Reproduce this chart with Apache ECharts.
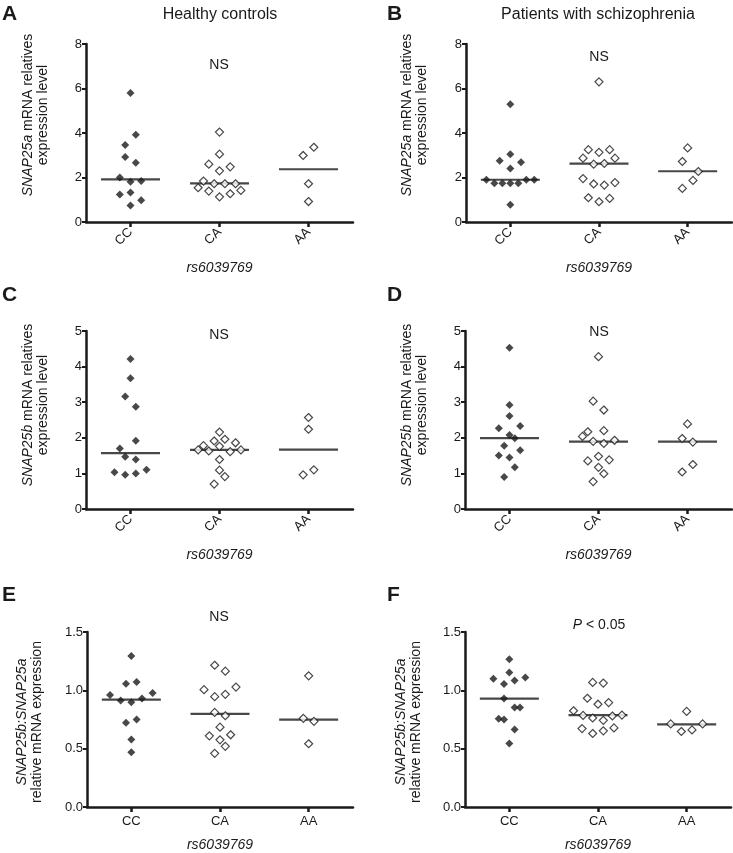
<!DOCTYPE html>
<html>
<head>
<meta charset="utf-8">
<script src="https://cdn.jsdelivr.net/npm/echarts@6/dist/echarts.min.js"></script>
<style>
html,body{margin:0;padding:0;background:#fff;}
#chart{width:733px;height:853px;}
</style>
</head>
<body>
<div id="chart"></div>
<script>
// ---------- data ----------
const categories = ['CC', 'CA', 'AA'];
const xAxisTitle = 'rs6039769';

// Panel A: healthy controls, SNAP25a
const A_CC = [5.80, 3.92, 3.46, 2.92, 2.66, 2.00, 1.81, 1.84, 1.24, 1.33, 0.98, 0.74];
const A_CC_slot = [0, 1, -1, -1, 1, -2, 0, 2, -2, 0, 2, 0];
const A_CA = [4.04, 3.05, 2.60, 2.48, 2.30, 1.84, 1.72, 1.72, 1.72, 1.54, 1.39, 1.42, 1.13, 1.27];
const A_CA_slot = [0, 0, -2, 2, 0, -3, -1, 1, 3, -4, -2, 4, 0, 2];
const A_AA = [2.99, 3.36, 1.72, 0.92];
const A_AA_slot = [-1, 1, 0, 0];
const A_median = [1.92, 1.74, 2.37];

// Panel B: patients, SNAP25a
const B_CC = [5.29, 3.05, 2.75, 2.68, 2.40, 1.90, 1.74, 1.74, 1.74, 1.74, 1.90, 1.90, 0.77];
const B_CC_slot = [0, 0, -2, 2, 0, -4.5, -3, -1.5, 0, 1.5, 3, 4.5, 0];
const B_CA = [6.30, 3.25, 3.13, 3.25, 2.87, 2.87, 2.60, 2.63, 1.95, 1.71, 1.66, 1.77, 1.09, 0.91, 1.06];
const B_CA_slot = [0, -2, 0, 2, -3, 3, -1, 1, -3, -1, 1, 3, -2, 0, 2];
const B_AA = [2.72, 3.33, 2.27, 1.87, 1.51];
const B_AA_slot = [-1, 0, 2, 1, -1];
const B_median = [1.90, 2.62, 2.28];

// Panel C: healthy controls, SNAP25b
const C_CC = [4.21, 3.67, 3.16, 2.87, 1.92, 1.70, 1.47, 1.39, 1.03, 0.96, 1.00, 1.10];
const C_CC_slot = [0, 0, -1, 1, 1, -2, -1, 1, -3, -1, 1, 3];
const C_CA = [2.16, 1.91, 1.96, 1.86, 1.78, 1.76, 1.66, 1.63, 1.61, 1.66, 1.39, 1.09, 0.91, 0.70];
const C_CA_slot = [0, -1, 1, 3, -3, 0, -4, -2, 2, 4, 0, 0, 1, -1];
const C_AA = [2.57, 2.24, 0.96, 1.10];
const C_AA_slot = [0, 0, -1, 1];
const C_median = [1.57, 1.66, 1.67];

// Panel D: patients, SNAP25b
const D_CC = [4.53, 2.92, 2.61, 2.27, 2.33, 2.08, 1.99, 1.78, 1.65, 1.50, 1.45, 1.17, 0.90];
const D_CC_slot = [0, 0, 0, -2, 2, 0, 1, -1, 2, -2, 0, 1, -1];
const D_CA = [4.28, 3.03, 2.78, 2.17, 2.20, 2.04, 1.90, 1.84, 1.93, 1.48, 1.35, 1.38, 1.17, 0.99, 0.77];
const D_CA_slot = [0, -1, 1, -2, 1, -3, -1, 1, 3, 0, -2, 2, 0, 1, -1];
const D_AA = [2.39, 1.98, 1.88, 1.25, 1.04];
const D_AA_slot = [0, -1, 1, 1, -1];
const D_median = [1.99, 1.89, 1.89];

// Panel E: healthy controls, SNAP25b:SNAP25a
const E_CC = [1.294, 1.056, 1.071, 0.960, 0.977, 0.912, 0.898, 0.929, 0.723, 0.749, 0.579, 0.469];
const E_CC_slot = [0, -1, 1, -4, 4, -2, 0, 2, -1, 1, 0, 0];
const E_CA = [1.215, 1.164, 1.006, 1.028, 0.946, 0.966, 0.811, 0.782, 0.684, 0.610, 0.619, 0.576, 0.520, 0.460];
const E_CA_slot = [-1, 1, -3, 3, -1, 1, -1, 1, 0, -2, 2, 0, 1, -1];
const E_AA = [1.124, 0.760, 0.734, 0.542];
const E_AA_slot = [0, -1, 1, 0];
const E_median = [0.921, 0.799, 0.749];

// Panel F: patients, SNAP25b:SNAP25a
const F_CC = [1.266, 1.153, 1.099, 1.110, 1.054, 1.085, 0.929, 0.757, 0.751, 0.853, 0.853, 0.664, 0.545];
const F_CC_slot = [0, 0, -3, 3, -1, 1, -1, -2, -1, 1, 2, 1, 0];
const F_CA = [1.068, 1.062, 0.932, 0.881, 0.895, 0.825, 0.785, 0.763, 0.743, 0.780, 0.788, 0.672, 0.630, 0.653, 0.678];
const F_CA_slot = [-1, 1, -2, 0, 2, -4.6, -2.8, -1, 1, 2.7, 4.5, -3, -1, 1, 3];
const F_AA = [0.819, 0.712, 0.712, 0.647, 0.661];
const F_AA_slot = [0, -3, 3, -1, 1];
const F_median = [0.929, 0.788, 0.709];

const panelLetters = ['A', 'B', 'C', 'D', 'E', 'F'];
const columnTitles = ['Healthy controls', 'Patients with schizophrenia'];
const statLabels = ['NS', 'NS', 'NS', 'NS', 'NS', '{p|P} < 0.05'];

// ---------- layout / styles ----------
const FONT = '"Liberation Sans", Arial, Helvetica, sans-serif';
const INK = '#1a1a1a';
const SLOT = 0.06; // jitter step in category units

const panels = [
  { groups: [[A_CC, A_CC_slot], [A_CA, A_CA_slot], [A_AA, A_AA_slot]], median: A_median,
    grid: { left: 86, top: 44, width: 267, height: 178 }, y: { max: 8, interval: 2, dec: 0 }, rotate: 45, nameGap: 39 },
  { groups: [[B_CC, B_CC_slot], [B_CA, B_CA_slot], [B_AA, B_AA_slot]], median: B_median,
    grid: { left: 466, top: 44, width: 266, height: 178 }, y: { max: 8, interval: 2, dec: 0 }, rotate: 45, nameGap: 39 },
  { groups: [[C_CC, C_CC_slot], [C_CA, C_CA_slot], [C_AA, C_AA_slot]], median: C_median,
    grid: { left: 86, top: 331, width: 267, height: 178 }, y: { max: 5, interval: 1, dec: 0 }, rotate: 45, nameGap: 39 },
  { groups: [[D_CC, D_CC_slot], [D_CA, D_CA_slot], [D_AA, D_AA_slot]], median: D_median,
    grid: { left: 465, top: 331, width: 267, height: 178 }, y: { max: 5, interval: 1, dec: 0 }, rotate: 45, nameGap: 39 },
  { groups: [[E_CC, E_CC_slot], [E_CA, E_CA_slot], [E_AA, E_AA_slot]], median: E_median,
    grid: { left: 87, top: 632, width: 266, height: 177 }, y: { max: 1.5, interval: 0.5, dec: 1 }, rotate: 0, nameGap: 31 },
  { groups: [[F_CC, F_CC_slot], [F_CA, F_CA_slot], [F_AA, F_AA_slot]], median: F_median,
    grid: { left: 465, top: 632, width: 266, height: 177 }, y: { max: 1.5, interval: 0.5, dec: 1 }, rotate: 0, nameGap: 31 }
];

const grids = [], xAxes = [], yAxes = [], series = [];
const catCenters = categories.map((c, i) => i + 0.5);

panels.forEach((p, k) => {
  grids.push(Object.assign({ containLabel: false }, p.grid));
  xAxes.push({
    gridIndex: k, type: 'value', min: 0, max: 3,
    name: xAxisTitle, nameLocation: 'middle', nameGap: p.nameGap,
    nameTextStyle: { fontFamily: FONT, fontSize: 14, fontStyle: 'italic', color: INK },
    axisLine: { show: true, onZero: false, lineStyle: { color: INK, width: 2.5 } },
    axisTick: { show: true, customValues: catCenters, length: 5, lineStyle: { color: INK, width: 2.5 } },
    axisLabel: { customValues: catCenters, rotate: p.rotate, margin: 8, fontFamily: FONT, fontSize: 13, color: INK,
      formatter: v => categories[Math.floor(v)] },
    splitLine: { show: false }
  });
  yAxes.push({
    gridIndex: k, type: 'value', min: 0, max: p.y.max, interval: p.y.interval,
    axisLine: { show: true, onZero: false, lineStyle: { color: INK, width: 2.5 } },
    axisTick: { show: true, length: 4, lineStyle: { color: INK, width: 2 } },
    axisLabel: { margin: 4, fontFamily: FONT, fontSize: 13, color: INK, formatter: v => v.toFixed(p.y.dec) },
    splitLine: { show: false }
  });
  // median lines
  series.push({
    type: 'scatter', xAxisIndex: k, yAxisIndex: k, symbol: 'rect', symbolSize: [59, 2.2], z: 2,
    itemStyle: { color: INK }, silent: true,
    data: p.median.map((m, i) => [catCenters[i], m])
  });
  // points
  p.groups.forEach(([vals, slots], gi) => {
    const filled = gi === 0;
    series.push({
      type: 'scatter', xAxisIndex: k, yAxisIndex: k, symbol: 'diamond', symbolSize: 8, z: 3,
      itemStyle: filled ? { color: INK } : { color: '#fff', borderColor: INK, borderWidth: 1.2 },
      data: vals.map((v, j) => [catCenters[gi] + slots[j] * SLOT, v])
    });
  });
});

// ---------- text graphics ----------
const graphics = [];
const letterPos = [[2, 4], [387, 4], [2, 285], [387, 285], [2, 585], [387, 585]];
panelLetters.forEach((L, i) => graphics.push({
  type: 'text', x: letterPos[i][0], y: letterPos[i][1],
  style: { text: L, font: 'bold 21px ' + FONT, fill: INK, align: 'left', verticalAlign: 'top' }
}));
graphics.push({ type: 'text', x: 220, y: 15, style: { text: columnTitles[0], font: '16px ' + FONT, fill: INK, align: 'center', verticalAlign: 'middle' } });
graphics.push({ type: 'text', x: 598, y: 15, style: { text: columnTitles[1], font: '16px ' + FONT, fill: INK, align: 'center', verticalAlign: 'middle' } });

const statPos = [[219, 65], [599, 57], [219, 335], [599, 332], [219, 617], [599, 625]];
statLabels.forEach((s, i) => graphics.push({
  type: 'text', x: statPos[i][0], y: statPos[i][1],
  style: { text: s, font: '14px ' + FONT, fill: INK, align: 'center', verticalAlign: 'middle',
    rich: { p: { fontStyle: 'italic', fontFamily: FONT, fontSize: 14, fill: INK } } }
}));

const yTitles = [
  { t: '{i|SNAP25a} mRNA relatives\nexpression level', x: 36, y: 115 },
  { t: '{i|SNAP25a} mRNA relatives\nexpression level', x: 415, y: 115 },
  { t: '{i|SNAP25b} mRNA relatives\nexpression level', x: 36, y: 405 },
  { t: '{i|SNAP25b} mRNA relatives\nexpression level', x: 415, y: 405 },
  { t: '{i|SNAP25b:SNAP25a}\nrelative mRNA expression', x: 30, y: 722 },
  { t: '{i|SNAP25b:SNAP25a}\nrelative mRNA expression', x: 409, y: 722 }
];
yTitles.forEach(o => graphics.push({
  type: 'text', x: o.x, y: o.y, rotation: Math.PI / 2,
  style: { text: o.t, font: '14px ' + FONT, fill: INK, align: 'center', verticalAlign: 'middle', lineHeight: 15,
    rich: { i: { fontStyle: 'italic', fontFamily: FONT, fontSize: 14, fill: INK, lineHeight: 15 } } }
}));

const chart = echarts.init(document.getElementById('chart'), null, { renderer: 'canvas' });
chart.setOption({
  backgroundColor: '#fff',
  animation: false,
  grid: grids,
  xAxis: xAxes,
  yAxis: yAxes,
  series: series,
  graphic: graphics
});
</script>
</body>
</html>
